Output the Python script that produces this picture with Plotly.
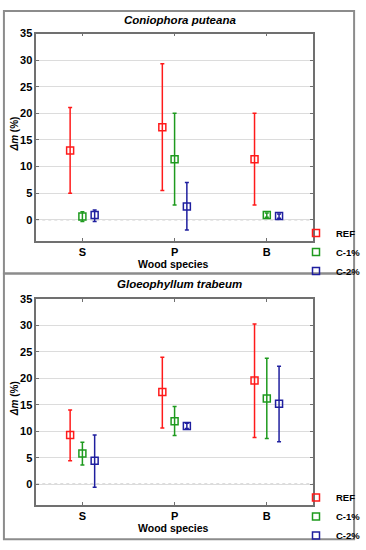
import numpy as np
import plotly.graph_objects as go

# ---------------- data ----------------
categories = ["S", "P", "B"]
series_names = ["REF", "C-1%", "C-2%"]
series_colors = ["#ff1a1a", "#1e9a1e", "#1f1f9f"]

panel_titles = ["Coniophora puteana", "Gloeophyllum trabeum"]

# Coniophora puteana: mean, upper error, lower error
cp_mean = {"REF": [13.0, 17.4, 11.4], "C-1%": [0.6, 11.4, 0.9], "C-2%": [0.9, 2.5, 0.7]}
cp_plus = {"REF": [8.1, 11.9, 8.6], "C-1%": [0.9, 8.6, 0.4], "C-2%": [0.95, 4.5, 0.4]}
cp_minus = {"REF": [8.0, 11.9, 8.6], "C-1%": [0.9, 8.6, 0.4], "C-2%": [1.2, 4.4, 0.4]}

# Gloeophyllum trabeum
gt_mean = {"REF": [9.3, 17.4, 19.6], "C-1%": [5.8, 11.9, 16.2], "C-2%": [4.4, 11.0, 15.2]}
gt_plus = {"REF": [4.7, 6.6, 10.7], "C-1%": [2.1, 2.8, 7.6], "C-2%": [4.9, 0.5, 7.1]}
gt_minus = {"REF": [4.9, 6.8, 10.8], "C-1%": [2.2, 2.7, 7.6], "C-2%": [5.0, 0.5, 7.2]}

y_ticks = [0, 5, 10, 15, 20, 25, 30, 35]

# ---------------- layout constants ----------------
W, H = 366, 550
FONT = "Arial, Liberation Sans, sans-serif"


def px_x(p):
    return p / W


def px_y(p):
    return 1 - p / H


fig = go.Figure()

positions = np.arange(len(categories))
offsets = [-0.133, 0.0, 0.133]

panels = [
    (cp_mean, cp_plus, cp_minus, "x", "y", "legend"),
    (gt_mean, gt_plus, gt_minus, "x2", "y2", "legend2"),
]

for pi, (mean, plus, minus, xa, ya, lg) in enumerate(panels):
    for si, name in enumerate(series_names):
        fig.add_trace(go.Scatter(
            x=positions + offsets[si],
            y=mean[name],
            mode="markers",
            name=name,
            xaxis=xa, yaxis=ya, legend=lg,
            marker=dict(symbol="square-open", size=7, color=series_colors[si],
                        line=dict(width=1.5, color=series_colors[si])),
            error_y=dict(type="data", symmetric=False, array=plus[name],
                         arrayminus=minus[name], color=series_colors[si],
                         thickness=1.5, width=2),
        ))

axis_common_x = dict(
    range=[-0.5, 2.5], tickvals=list(positions), ticktext=categories,
    showline=True, linecolor="#707070", linewidth=1.5, mirror="ticks",
    ticks="inside", ticklen=3, tickcolor="#707070",
    showgrid=False, zeroline=False,
    tickfont=dict(family=FONT, size=11, color="black", weight="bold"),
)
axis_common_y = dict(
    range=[-4, 35], tickvals=y_ticks,
    showline=True, linecolor="#707070", linewidth=1.5, mirror="ticks",
    ticks="inside", ticklen=3, tickcolor="#707070",
    showgrid=True, gridcolor="#dcdcdc", gridwidth=1, zeroline=False,
    tickfont=dict(family=FONT, size=11, color="black", weight="bold"),
)

x_dom = [px_x(37), px_x(319)]
top_dom = [px_y(239), px_y(28)]
bot_dom = [px_y(507.5), px_y(298)]

legend_font = dict(family=FONT, size=9.5, color="black", weight="bold")

fig.update_layout(
    width=W, height=H,
    margin=dict(l=0, r=0, t=0, b=0),
    paper_bgcolor="white", plot_bgcolor="white",
    font=dict(family=FONT, color="black"),
    xaxis=dict(domain=x_dom, anchor="y", **axis_common_x),
    yaxis=dict(domain=top_dom, anchor="x", **axis_common_y),
    xaxis2=dict(domain=x_dom, anchor="y2", **axis_common_x),
    yaxis2=dict(domain=bot_dom, anchor="x2", **axis_common_y),
    legend=dict(x=px_x(302), y=px_y(250), xanchor="left", yanchor="middle",
                bgcolor="rgba(0,0,0,0)", borderwidth=0, font=legend_font),
    legend2=dict(x=px_x(302), y=px_y(519), xanchor="left", yanchor="middle",
                 bgcolor="rgba(0,0,0,0)", borderwidth=0, font=legend_font),
)

shapes = []
# panel frames
for y0, y1 in [(272, 5), (542, 272)]:
    shapes.append(dict(type="rect", xref="paper", yref="paper",
                       x0=px_x(4), x1=px_x(361), y0=px_y(y0), y1=px_y(y1),
                       line=dict(color="#8c8c8c", width=2), layer="below"))
# dotted zero lines
for xa, ya in [("x", "y"), ("x2", "y2")]:
    shapes.append(dict(type="line", xref=xa + " domain", yref=ya,
                       x0=0, x1=1, y0=0, y1=0,
                       line=dict(color="#b0b0b0", width=1, dash="dot"), layer="below"))
fig.update_layout(shapes=shapes)

annotations = []
title_y = [14, 283]
xlabel_y = [262, 531]
ylabel_y = [130, 399]
for i in range(2):
    annotations.append(dict(
        text=panel_titles[i], xref="paper", yref="paper",
        x=px_x(183), y=px_y(title_y[i]), xanchor="center", yanchor="middle",
        showarrow=False,
        font=dict(family=FONT, size=11.5, color="black", weight="bold", style="italic")))
    annotations.append(dict(
        text="Wood species", xref="paper", yref="paper",
        x=px_x(177), y=px_y(xlabel_y[i]), xanchor="center", yanchor="middle",
        showarrow=False,
        font=dict(family=FONT, size=10.5, color="black", weight="bold")))
    annotations.append(dict(
        text="<i>Δm</i> (%)", xref="paper", yref="paper",
        x=px_x(15), y=px_y(ylabel_y[i]), xanchor="center", yanchor="middle",
        textangle=-90, showarrow=False,
        font=dict(family=FONT, size=10, color="black", weight="bold")))
fig.update_layout(annotations=annotations)

fig.write_html(
    "out.html",
    config={"displayModeBar": False},
    post_script="document.body.style.margin='0';document.body.style.overflow='hidden';",
)
